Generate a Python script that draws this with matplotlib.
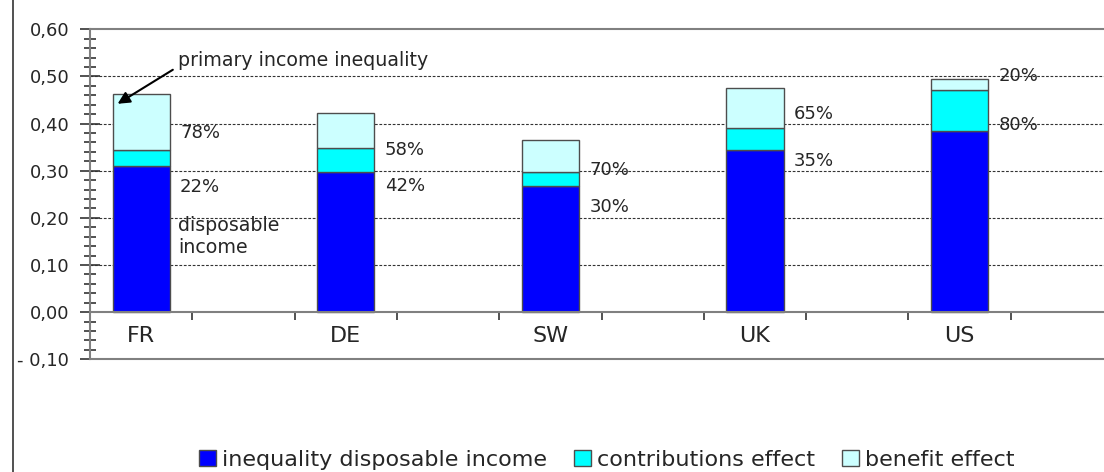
import numpy as np
import matplotlib
matplotlib.use('Agg')
import matplotlib.pyplot as plt
from matplotlib.lines import Line2D
from matplotlib.ticker import MultipleLocator, FuncFormatter, FixedLocator

# data
countries = ['FR', 'DE', 'SW', 'UK', 'US']
disposable = [0.311, 0.297, 0.268, 0.345, 0.384]
contributions = [0.034, 0.051, 0.029, 0.046, 0.088]
benefit = [0.118, 0.074, 0.069, 0.085, 0.023]
share_top = ['78%', '58%', '70%', '65%', '20%']
share_low = ['22%', '42%', '30%', '35%', '80%']
top_label_y = [0.380, 0.345, 0.302, 0.421, 0.501]
low_label_y = [0.265, 0.267, 0.223, 0.320, 0.397]

c_blue = '#0000FF'
c_cyan = '#00FFFF'
c_light = '#CCFFFF'
edge = '#4d4d4d'
txt = '#262626'

plt.rcParams['font.family'] = ['DejaVu Sans']
fig = plt.figure(figsize=(11.04, 4.72), dpi=100)
ax = fig.add_axes([90/1104, 1 - 359.3/472, 1023/1104, 330/472])

x = np.arange(len(countries)) * 2 + 0.5
w = 0.56
b1 = ax.bar(x, disposable, w, color=c_blue, edgecolor=edge, linewidth=1, zorder=3,
            label='inequality disposable income')
b2 = ax.bar(x, contributions, w, bottom=disposable, color=c_cyan, edgecolor=edge,
            linewidth=1, zorder=3, label='contributions effect')
bot2 = np.array(disposable) + np.array(contributions)
b3 = ax.bar(x, benefit, w, bottom=bot2, color=c_light, edgecolor=edge, linewidth=1,
            zorder=3, label='benefit effect')

ax.set_xlim(0, 10)
ax.set_ylim(-0.1, 0.6)

# grid lines
for g in [0.1, 0.2, 0.3, 0.4, 0.5]:
    ax.axhline(g, color='#333333', linestyle=(0, (2.5, 1.5)), linewidth=0.8, zorder=1)
ax.axhline(-0.1, color='#808080', linewidth=1.5, clip_on=False, zorder=2)

ax.spines['right'].set_visible(False)
ax.spines['top'].set_color('#808080')
ax.spines['top'].set_linewidth(1.5)
ax.spines['left'].set_color('#808080')
ax.spines['left'].set_linewidth(1.5)
ax.spines['bottom'].set_position(('data', 0))
ax.spines['bottom'].set_color('#808080')
ax.spines['bottom'].set_linewidth(1.5)
ax.spines['bottom'].set_zorder(4)

ax.yaxis.set_major_locator(MultipleLocator(0.1))
ax.yaxis.set_minor_locator(MultipleLocator(0.02))
ax.yaxis.set_major_formatter(FuncFormatter(
    lambda v, p: ('- ' if v < -1e-9 else '') + f'{abs(v):.2f}'.replace('.', ',')))
ax.tick_params(axis='y', which='major', direction='inout', length=14, width=1.2,
               color='#333333', labelsize=13, labelcolor=txt, pad=8)
ax.tick_params(axis='y', which='minor', direction='inout', length=8, width=1.2,
               color='#333333')

ax.xaxis.set_major_locator(FixedLocator(np.arange(1, 11)))
ax.xaxis.set_major_formatter(FuncFormatter(lambda v, p: ''))
ax.xaxis.set_minor_locator(FixedLocator(x))
ax.set_xticklabels(countries, minor=True)
ax.tick_params(axis='x', which='major', direction='out', length=6, width=1.2, color='#333333')
ax.tick_params(axis='x', which='minor', length=0, labelsize=16, labelcolor=txt, pad=10)

# share labels
for i in range(len(countries)):
    ax.text(x[i] + 0.38, top_label_y[i], share_top[i], fontsize=13, color=txt,
            va='center', ha='left', zorder=5)
    ax.text(x[i] + 0.38, low_label_y[i], share_low[i], fontsize=13, color=txt,
            va='center', ha='left', zorder=5)

ax.text(0.86, 0.16, 'disposable\nincome', fontsize=13.7, color=txt, va='center',
        ha='left', linespacing=1.2, zorder=5)
ax.annotate('primary income inequality', xy=(0.27, 0.442), xytext=(0.86, 0.533),
            fontsize=13.7, color=txt, va='center', ha='left', zorder=5,
            arrowprops=dict(arrowstyle='-|>', color='black', lw=1.5,
                            mutation_scale=18, shrinkA=2, shrinkB=0,
                            relpos=(0, 0.2)))

# left border of the chart area
fig.add_artist(Line2D([12.7/1104, 12.7/1104], [0, 1], color='#333333', linewidth=1.2))

leg = fig.legend(handles=[b1, b2, b3], loc='center', bbox_to_anchor=(607/1104, 12/472),
                 ncol=3, frameon=False, handlelength=0.75, handleheight=0.75,
                 handletextpad=0.3, columnspacing=1.2,
                 prop={'family': 'DejaVu Sans', 'size': 16})
for t in leg.get_texts():
    t.set_color(txt)

fig.savefig('out.png', dpi=100)
